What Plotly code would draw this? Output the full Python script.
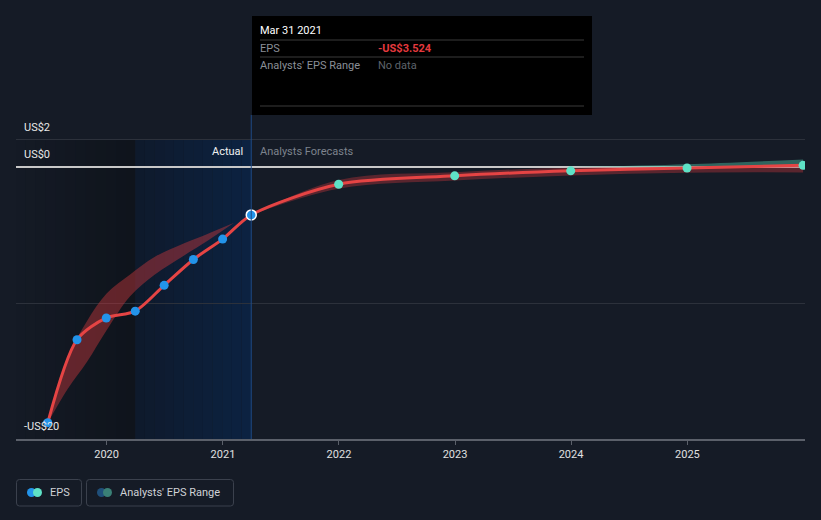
import plotly.graph_objects as go
import pandas as pd

# ---------------- data ----------------
actual_dates = ['2019-06-30', '2019-09-30', '2019-12-31', '2020-03-31',
                '2020-06-30', '2020-09-30', '2020-12-31', '2021-03-31']
actual_eps = [-18.8, -12.7, -11.1, -10.6, -8.7, -6.8, -5.3, -3.524]

forecast_dates = ['2021-12-31', '2022-12-31', '2023-12-31', '2024-12-31', '2025-12-31']
forecast_eps = [-1.27, -0.65, -0.28, -0.07, 0.12]

range_dates = ['2021-03-31', '2021-12-31', '2022-12-31', '2023-12-31', '2024-12-31', '2025-12-31']
range_low = [-3.524, -1.6, -1.0, -0.62, -0.42, -0.4]
range_high = [-3.524, -0.95, -0.38, -0.05, 0.2, 0.55]

past_range_dates = ['2019-06-30', '2019-09-01', '2019-11-01', '2020-01-01', '2020-03-15',
                    '2020-06-01', '2020-09-01', '2020-11-15', '2021-02-05']
past_range_low = [-18.8, -16.3, -14.3, -12.0, -9.5, -7.9, -6.5, -5.4, -4.1]
past_range_high = [-18.8, -14.0, -11.3, -9.3, -7.9, -6.6, -5.6, -4.9, -4.1]

y_tick_vals = [2, 0, -20]
y_tick_text = ['US$2', 'US$0', '-US$20']

# ---------------- geometry helpers ----------------
W, H = 821, 520
ML, MR, MT, MB = 16, 16, 115, 81
PW, PH = W - ML - MR, H - MT - MB


def pxx(px):
    return (px - ML) / PW


def pxy(py):
    return (H - MB - py) / PH


BG = '#151b26'
RED = '#e54444'
BLUE = '#2394ea'
TEAL = '#5ee2c6'

fig = go.Figure()

# past analyst range wedge
fig.add_trace(go.Scatter(x=past_range_dates, y=past_range_low, mode='lines',
                         line=dict(width=0, shape='spline', smoothing=1), hoverinfo='skip',
                         showlegend=False))
fig.add_trace(go.Scatter(x=past_range_dates, y=past_range_high, mode='lines',
                         line=dict(width=0, shape='spline', smoothing=1), fill='tonexty',
                         fillcolor='rgba(200,55,60,0.45)', hoverinfo='skip', showlegend=False))

# forecast range (red part, below zero)
red_top = [min(h, 0) for h in range_high]
fig.add_trace(go.Scatter(x=range_dates, y=range_low, mode='lines',
                         line=dict(width=0, shape='spline', smoothing=1), hoverinfo='skip',
                         showlegend=False))
fig.add_trace(go.Scatter(x=range_dates, y=red_top, mode='lines',
                         line=dict(width=0, shape='spline', smoothing=1), fill='tonexty',
                         fillcolor='rgba(200,55,60,0.38)', hoverinfo='skip', showlegend=False))
# forecast range (teal part, above zero)
teal_dates = range_dates[3:]
teal_top = [max(h, 0) for h in range_high[3:]]
fig.add_trace(go.Scatter(x=teal_dates, y=[0] * len(teal_dates), mode='lines',
                         line=dict(width=0), hoverinfo='skip', showlegend=False))
fig.add_trace(go.Scatter(x=teal_dates, y=teal_top, mode='lines',
                         line=dict(width=0, shape='spline', smoothing=1), fill='tonexty',
                         fillcolor='rgba(80,190,165,0.45)', hoverinfo='skip', showlegend=False))

# EPS line
fig.add_trace(go.Scatter(x=actual_dates + forecast_dates, y=actual_eps + forecast_eps,
                         mode='lines', line=dict(color=RED, width=3, shape='spline', smoothing=0.8),
                         hoverinfo='skip', showlegend=False))
# markers
fig.add_trace(go.Scatter(x=actual_dates[:-1], y=actual_eps[:-1], mode='markers',
                         marker=dict(color=BLUE, size=9), hoverinfo='skip', showlegend=False))
fig.add_trace(go.Scatter(x=actual_dates[-1:], y=actual_eps[-1:], mode='markers',
                         marker=dict(color=BLUE, size=10, line=dict(color='white', width=1.5)),
                         hoverinfo='skip', showlegend=False))
fig.add_trace(go.Scatter(x=forecast_dates, y=forecast_eps, mode='markers',
                         marker=dict(color=TEAL, size=9), hoverinfo='skip', showlegend=False))

shapes = []
# darker "past" column with gradient
left_start = pd.Timestamp('2019-03-22')
dark_end = pd.Timestamp('2020-03-31')
n = 12
for i in range(n):
    t0 = left_start + (dark_end - left_start) * i / n
    t1 = left_start + (dark_end - left_start) * (i + 1) / n
    f = (i + 0.5) / n
    c = (int(21 - 6 * f), int(27 - 7 * f), int(38 - 10 * f))
    shapes.append(dict(type='rect', xref='x', yref='y', x0=t0, x1=t1, y0=-20, y1=2,
                       fillcolor='rgb(%d,%d,%d)' % c, line=dict(width=0), layer='below'))
# blue gradient column (last year of actuals)
blue_end = pd.Timestamp('2021-03-31')
for i in range(n):
    t0 = dark_end + (blue_end - dark_end) * i / n
    t1 = dark_end + (blue_end - dark_end) * (i + 1) / n
    f = (i + 0.5) / n
    c = (int(15 - 3 * f), int(26 + 9 * f), int(44 + 22 * f))
    shapes.append(dict(type='rect', xref='x', yref='y', x0=t0, x1=t1, y0=-20, y1=2,
                       fillcolor='rgb(%d,%d,%d)' % c, line=dict(width=0), layer='below'))
# vertical marker line at Mar 31 2021
shapes.append(dict(type='line', xref='x', yref='paper', x0='2021-03-31', x1='2021-03-31',
                   y0=0, y1=1, line=dict(color='#1f4a86', width=1)))

# tooltip box
shapes.append(dict(type='rect', xref='paper', yref='paper', x0=pxx(252), x1=pxx(592),
                   y0=pxy(115), y1=pxy(16), fillcolor='#000000', line=dict(width=0)))
for ly in (40, 57, 106):
    shapes.append(dict(type='line', xref='paper', yref='paper', x0=pxx(260), x1=pxx(584),
                       y0=pxy(ly), y1=pxy(ly), line=dict(color='#3a3a3a', width=1)))


def rrect(x0, y0, x1, y1, r=3):
    X = lambda p: pxx(p)
    Y = lambda p: pxy(p)
    return ('M {a},{b} L {c},{b} Q {d},{b} {d},{e} L {d},{f} Q {d},{g} {c},{g} '
            'L {a},{g} Q {h},{g} {h},{f} L {h},{e} Q {h},{b} {a},{b} Z').format(
        a=X(x0 + r), b=Y(y0), c=X(x1 - r), d=X(x1), e=Y(y0 + r), f=Y(y1 - r), g=Y(y1), h=X(x0))


# legend boxes
shapes.append(dict(type='path', xref='paper', yref='paper', path=rrect(16.5, 479.5, 81.5, 506),
                   line=dict(color='#3b414d', width=1)))
shapes.append(dict(type='path', xref='paper', yref='paper', path=rrect(86.5, 479.5, 233.5, 506),
                   line=dict(color='#3b414d', width=1)))


def circ(cx, cy, r, color):
    return dict(type='circle', xref='paper', yref='paper', x0=pxx(cx - r), x1=pxx(cx + r),
                y0=pxy(cy + r), y1=pxy(cy - r), fillcolor=color, line=dict(width=0))


shapes += [circ(31.5, 492.5, 4.5, BLUE), circ(37.5, 492.5, 4.5, TEAL),
           circ(101.5, 492.5, 4.5, '#1f4f7a'), circ(107.5, 492.5, 4.5, '#3a8076')]

FONT = 'Roboto'
ann = []
# y labels
for v, t in zip(y_tick_vals, y_tick_text):
    ann.append(dict(x=pxx(22), xref='paper', y=v, yref='y', text=t, showarrow=False,
                    xanchor='left', yanchor='bottom', yshift=4,
                    font=dict(family=FONT, size=11, color='#e8e8e8')))
ann.append(dict(x=pxx(245), xref='paper', y=pxy(151), yref='paper', text='Actual',
                showarrow=False, xanchor='right', yanchor='middle',
                font=dict(family=FONT, size=11, color='#f0f0f0')))
ann.append(dict(x=pxx(258), xref='paper', y=pxy(151), yref='paper', text='Analysts Forecasts',
                showarrow=False, xanchor='left', yanchor='middle',
                font=dict(family=FONT, size=11, color='#7d838d')))
# tooltip text
ann.append(dict(x=pxx(258), xref='paper', y=pxy(31), yref='paper', text='Mar 31 2021',
                showarrow=False, xanchor='left', yanchor='middle',
                font=dict(family=FONT, size=11, color='#ffffff')))
ann.append(dict(x=pxx(258), xref='paper', y=pxy(48.5), yref='paper', text='EPS',
                showarrow=False, xanchor='left', yanchor='middle',
                font=dict(family=FONT, size=11, color='#8a8f97')))
ann.append(dict(x=pxx(376), xref='paper', y=pxy(48.5), yref='paper', text='<b>-US$3.524</b>',
                showarrow=False, xanchor='left', yanchor='middle',
                font=dict(family=FONT, size=11, color='#e5393e')))
ann.append(dict(x=pxx(258), xref='paper', y=pxy(65.5), yref='paper', text="Analysts' EPS Range",
                showarrow=False, xanchor='left', yanchor='middle',
                font=dict(family=FONT, size=11, color='#8a8f97')))
ann.append(dict(x=pxx(376), xref='paper', y=pxy(65.5), yref='paper', text='No data',
                showarrow=False, xanchor='left', yanchor='middle',
                font=dict(family=FONT, size=11, color='#5e636b')))
# legend text
ann.append(dict(x=pxx(48), xref='paper', y=pxy(492.5), yref='paper', text='EPS',
                showarrow=False, xanchor='left', yanchor='middle',
                font=dict(family=FONT, size=11, color='#cfd2d6')))
ann.append(dict(x=pxx(118), xref='paper', y=pxy(492.5), yref='paper', text="Analysts' EPS Range",
                showarrow=False, xanchor='left', yanchor='middle',
                font=dict(family=FONT, size=11, color='#cfd2d6')))

fig.update_layout(
    width=W, height=H,
    margin=dict(l=ML, r=MR, t=MT, b=MB, pad=0),
    paper_bgcolor=BG, plot_bgcolor=BG,
    showlegend=False, hovermode=False,
    shapes=shapes, annotations=ann,
    font=dict(family=FONT, size=11, color='#e0e0e0'),
)
fig.update_xaxes(type='date', range=['2019-03-22', '2026-01-06'],
                 tickvals=['2020-01-01', '2021-01-01', '2022-01-01', '2023-01-01',
                           '2024-01-01', '2025-01-01'],
                 tickformat='%Y', showgrid=False, zeroline=False,
                 showline=True, linecolor='#5b606a', linewidth=1.5,
                 ticks='outside', ticklen=4, tickcolor='#5b606a', tickwidth=1,
                 tickfont=dict(family=FONT, size=11, color='#e0e0e0'))
fig.update_yaxes(range=[-20, (167 - 115) / 13.6], tickvals=[-20, -10, 0, 2],
                 showticklabels=False, showgrid=True, gridcolor='#2c313b', gridwidth=1,
                 zeroline=True, zerolinecolor='#c8c8c8', zerolinewidth=1.5)

fig.write_html('out.html', config={'displayModeBar': False},
               post_script="document.body.style.margin='0';document.body.style.background='%s';" % BG)
